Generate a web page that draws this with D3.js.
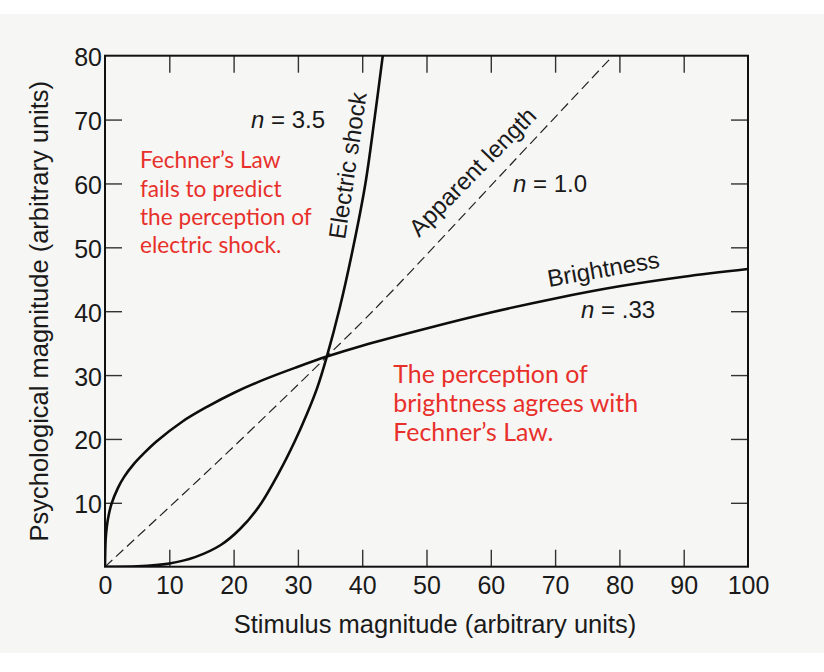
<!DOCTYPE html>
<html><head><meta charset="utf-8">
<script src="https://cdn.jsdelivr.net/npm/d3@7"></script>
<style>html,body{margin:0;padding:0;background:#fff;} svg{display:block}</style>
</head><body>
<svg id="chart" width="824" height="672"></svg>
<script>
// ---------- data ----------
const xTickMarks = [10, 20, 30, 40, 50, 60, 70, 80, 90];
const xTickLabels = [0, 10, 20, 30, 40, 50, 60, 70, 80, 90, 100];
const yTickMarks = [10, 20, 30, 40, 50, 60, 70];
const yTickLabels = [10, 20, 30, 40, 50, 60, 70, 80];

// Brightness, n = .33
const brightnessX = [0, 0.1, 0.3, 0.6, 1, 2, 3, 4.5, 6, 8, 12, 16, 20, 25, 30, 34.5, 40, 50, 60, 70, 80, 90, 100];
const brightnessY = [0, 4.2, 6.4, 8.2, 9.8, 12.3, 14.1, 16.1, 17.7, 19.6, 22.7, 25.1, 27.2, 29.4, 31.3, 32.9, 34.6, 37.3, 39.8, 42.0, 43.9, 45.4, 46.6];

// Electric shock, n = 3.5
const shockX = [0, 5, 10, 14, 18, 21, 24, 27.2, 29.5, 31.4, 33, 34.5, 36.5, 38.6, 40.5, 41.9, 43.2];
const shockY = [0, 0.05, 0.5, 1.5, 3.4, 5.9, 9.5, 15.0, 19.6, 23.9, 28.0, 32.9, 40.5, 50, 60, 70, 80];

// Apparent length, n = 1.0 (dashed)
const lengthX = [0, 17.4, 34.5, 42.8, 63.5, 79];
const lengthY = [0, 16.3, 32.9, 41.2, 63.4, 80];

const xTitle = "Stimulus magnitude (arbitrary units)";
const yTitle = "Psychological magnitude (arbitrary units)";
const note1 = ["Fechner’s Law", "fails to predict", "the perception of", "electric shock."];
const note2 = ["The perception of", "brightness agrees with", "Fechner’s Law."];

// ---------- drawing ----------
const svg = d3.select("#chart");
const FONT = "'Liberation Sans', Arial, Helvetica, sans-serif";
const RED = "#e8302b";
const INK = "#1a1a1a";

svg.append("rect").attr("x", 0).attr("y", 14).attr("width", 824).attr("height", 639).attr("fill", "#f6f6f5");

const x = d3.scaleLinear().domain([0, 100]).range([105, 748]);
const y = d3.scaleLinear().domain([0, 80]).range([566.7, 55.7]);

svg.append("defs").append("clipPath").attr("id", "plotclip")
  .append("rect").attr("x", x(0)).attr("y", y(80)).attr("width", x(100) - x(0)).attr("height", y(0) - y(80));

const tickLen = 17;
function styleTicks(g) {
  g.select(".domain").remove();
  g.selectAll(".tick line").attr("stroke", "#333").attr("stroke-width", 1.4);
}
svg.append("g").attr("transform", `translate(0,${y(0)})`)
  .call(d3.axisBottom(x).tickValues(xTickMarks).tickSize(-tickLen).tickFormat("")).call(styleTicks);
svg.append("g").attr("transform", `translate(0,${y(80)})`)
  .call(d3.axisTop(x).tickValues(xTickMarks).tickSize(-tickLen).tickFormat("")).call(styleTicks);
svg.append("g").attr("transform", `translate(${x(0)},0)`)
  .call(d3.axisLeft(y).tickValues(yTickMarks).tickSize(-tickLen).tickFormat("")).call(styleTicks);
svg.append("g").attr("transform", `translate(${x(100)},0)`)
  .call(d3.axisRight(y).tickValues(yTickMarks).tickSize(-tickLen).tickFormat("")).call(styleTicks);

// tick labels
function styleLabels(g) {
  g.select(".domain").remove();
  g.selectAll(".tick line").remove();
  g.selectAll(".tick text").attr("font-family", FONT).attr("font-size", 25).attr("fill", INK);
}
svg.append("g").attr("transform", `translate(0,${y(0)})`)
  .call(d3.axisBottom(x).tickValues(xTickLabels).tickSize(0).tickPadding(10).tickFormat(d3.format("d")))
  .call(styleLabels);
svg.append("g").attr("transform", `translate(${x(0)},0)`)
  .call(d3.axisLeft(y).tickValues(yTickLabels).tickSize(0).tickPadding(3).tickFormat(d3.format("d")))
  .call(styleLabels)
  .call(g => g.selectAll(".tick text").attr("dy", "0.4em"));

// frame
svg.append("rect").attr("x", x(0)).attr("y", y(80)).attr("width", x(100) - x(0)).attr("height", y(0) - y(80))
  .attr("fill", "none").attr("stroke", "#111").attr("stroke-width", 2);

// curves
const plot = svg.append("g").attr("clip-path", "url(#plotclip)");
const line = d3.line().x(d => x(d[0])).y(d => y(d[1])).curve(d3.curveCatmullRom.alpha(0.5));
const zip = (a, b) => a.map((v, i) => [v, b[i]]);

plot.append("path").datum(zip(lengthX, lengthY)).attr("d", line)
  .attr("fill", "none").attr("stroke", "#222").attr("stroke-width", 1.2).attr("stroke-dasharray", "10,5");
plot.append("path").datum(zip(brightnessX, brightnessY)).attr("d", line)
  .attr("fill", "none").attr("stroke", "#0d0d0d").attr("stroke-width", 2.6).attr("stroke-linejoin", "round");
plot.append("path").datum(zip(shockX, shockY)).attr("d", line)
  .attr("fill", "none").attr("stroke", "#0d0d0d").attr("stroke-width", 2.6).attr("stroke-linejoin", "round");

// axis titles
svg.append("text").attr("x", 435).attr("y", 633).attr("text-anchor", "middle")
  .attr("font-family", FONT).attr("font-size", 25.5).attr("fill", INK).text(xTitle);
svg.append("text").attr("transform", `translate(48,${(y(0) + y(80)) / 2}) rotate(-90)`).attr("text-anchor", "middle")
  .attr("font-family", FONT).attr("font-size", 25.5).attr("fill", INK).text(yTitle);

// black annotations
function nLabel(px, py, val) {
  const t = svg.append("text").attr("x", px).attr("y", py).attr("font-family", FONT).attr("font-size", 24).attr("fill", INK);
  t.append("tspan").attr("font-style", "italic").text("n");
  t.append("tspan").text(" = " + val);
}
nLabel(251, 128, "3.5");
nLabel(513, 192, "1.0");
nLabel(581, 318, ".33");

function curveLabel(px, py, ang, txt) {
  svg.append("text").attr("transform", `translate(${px},${py}) rotate(${ang})`)
    .attr("font-family", FONT).attr("font-size", 24).attr("fill", INK).text(txt);
}
curveLabel(345, 240, -81.5, "Electric shock");
curveLabel(419, 238, -45.5, "Apparent length");
curveLabel(549, 287, -10, "Brightness");

// red notes (font size fitted to measured line width)
function redNote(lines, left, baselines, refIdx, refWidth) {
  const g = svg.append("g");
  const texts = g.selectAll("text").data(lines).join("text")
    .attr("x", left).attr("y", (d, i) => baselines[i])
    .attr("font-family", "Lato, 'Open Sans', sans-serif").attr("font-size", 20).attr("fill", RED).text(d => d);
  const w = texts.nodes()[refIdx].getComputedTextLength();
  texts.attr("font-size", 20 * refWidth / w);
}
redNote(note1, 140, [168.3, 196.7, 225, 253.3], 2, 171.7);
redNote(note2, 393.3, [382.7, 411.7, 441.2], 1, 245);
</script>
</body></html>
